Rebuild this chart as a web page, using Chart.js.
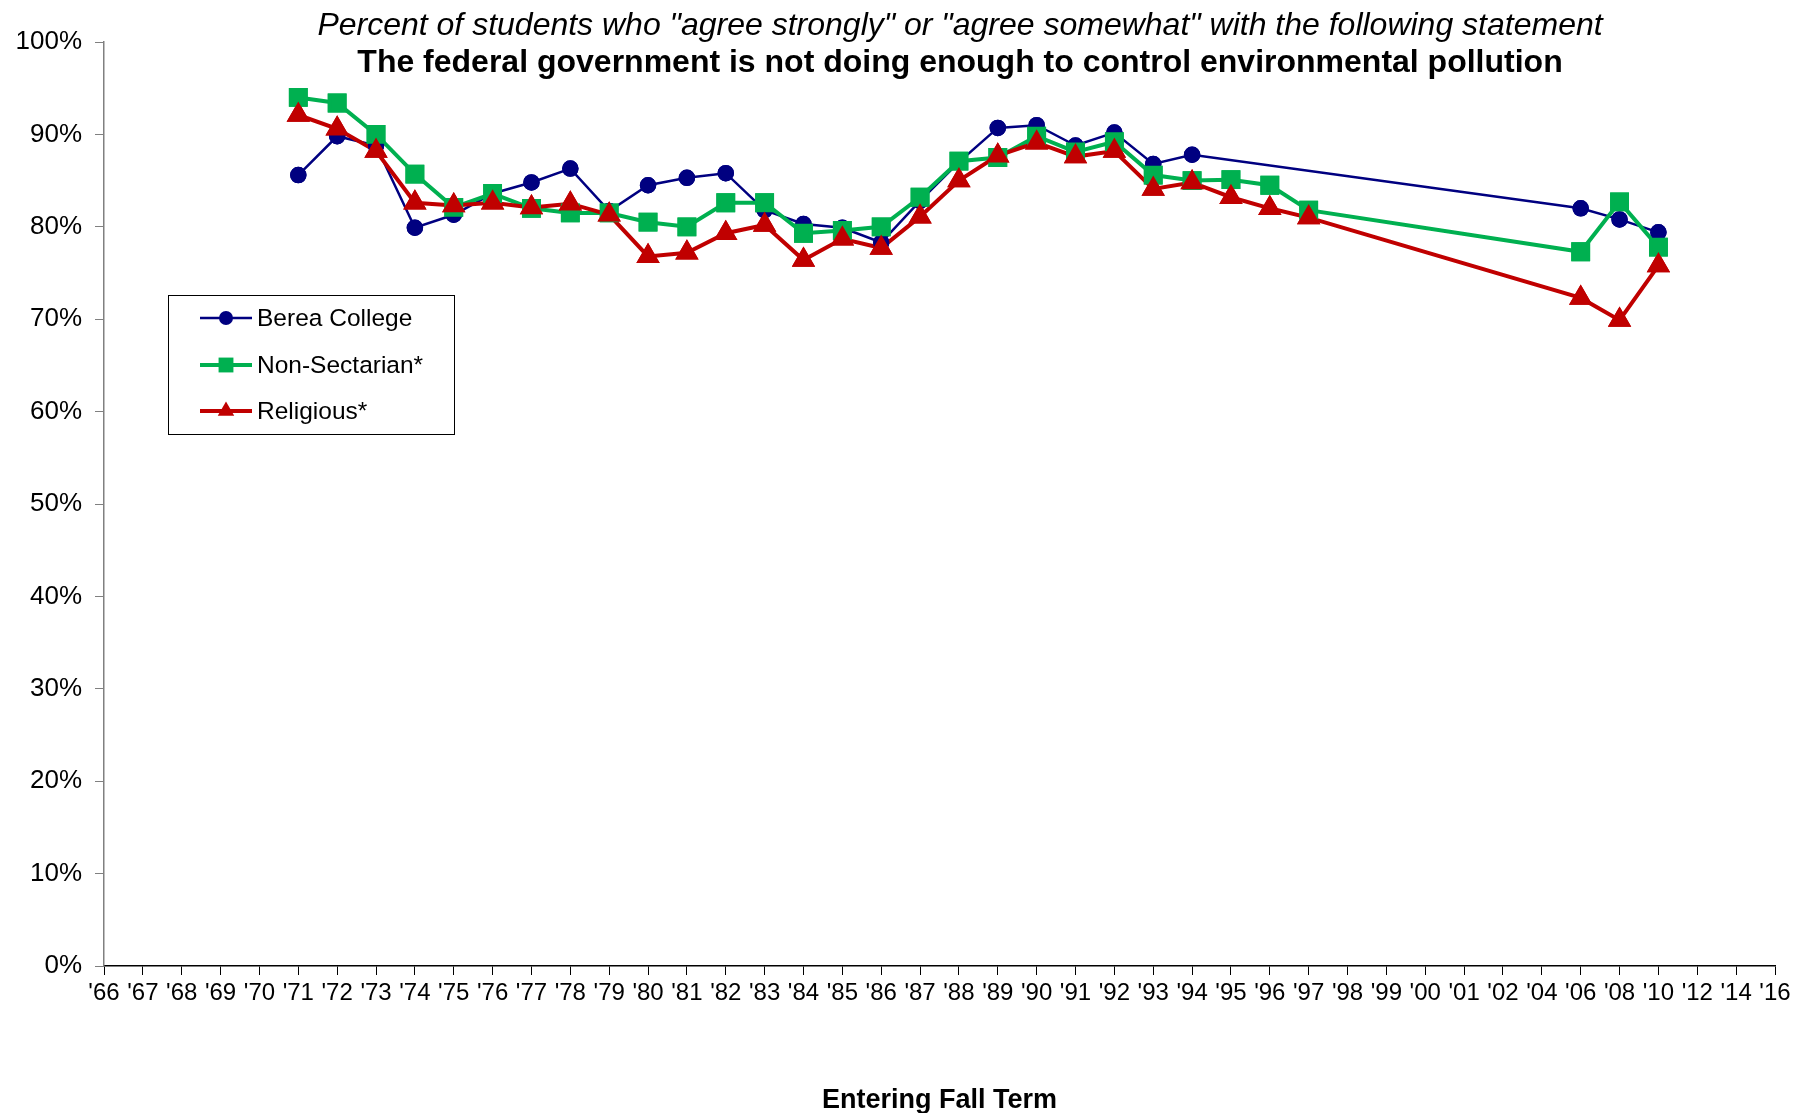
<!DOCTYPE html>
<html><head><meta charset="utf-8">
<script src="https://cdn.jsdelivr.net/npm/chart.js@4.4.0/dist/chart.umd.min.js"></script>
<style>html,body{margin:0;padding:0;background:#fff}</style>
</head><body>
<canvas id="c" width="1816" height="1113" style="width:1816px;height:1113px;display:block"></canvas>
<script>
const years = ["'66","'67","'68","'69","'70","'71","'72","'73","'74","'75","'76","'77","'78","'79","'80","'81","'82","'83","'84","'85","'86","'87","'88","'89","'90","'91","'92","'93","'94","'95","'96","'97","'98","'99","'00","'01","'02","'04","'06","'08","'10","'12","'14","'16"];
const berea = [null,null,null,null,null,
  85.6,89.8,88.8,79.9,81.3,83.6,84.8,86.3,81.7,84.5,85.3,85.8,81.8,80.3,79.9,78.3,82.8,87.0,90.7,91.0,88.8,90.2,86.8,87.8,
  null,null,null,null,null,null,null,null,null,
  82.0,80.8,79.4,null,null,null];
const nonSectarian = [null,null,null,null,null,
  94.0,93.4,90.0,85.7,82.1,83.6,82.0,81.5,81.5,80.5,80.0,82.6,82.6,79.3,79.6,80.0,83.2,87.1,87.5,89.8,88.1,89.2,85.6,85.0,85.1,84.5,81.8,
  null,null,null,null,null,null,
  77.3,82.7,77.8,null,null,null];
const religious = [null,null,null,null,null,
  92.1,90.6,88.2,82.6,82.3,82.6,82.1,82.5,81.3,76.8,77.2,79.3,80.2,76.4,78.7,77.7,81.1,85.0,87.7,89.1,87.6,88.2,84.1,84.8,83.2,82.0,81.0,
  null,null,null,null,null,null,
  72.3,69.9,75.8,null,null,null];
const yTicks = [0,10,20,30,40,50,60,70,80,90,100];
const titleLine1 = 'Percent of students who "agree strongly" or "agree somewhat" with the following statement';
const titleLine2 = 'The federal government is not doing enough to control environmental pollution';
const xTitle = 'Entering Fall Term';

const FONT = '"Liberation Sans", Arial, sans-serif';

function drawMarker(ctx, style, r, x, y, color){
  ctx.save();
  ctx.fillStyle = color; ctx.strokeStyle = color; ctx.lineWidth = 1;
  ctx.beginPath();
  if (style === 'circle') { ctx.arc(x, y, r, 0, Math.PI*2); }
  else if (style === 'rect') { const s = Math.SQRT1_2*r; ctx.rect(x-s, y-s, 2*s, 2*s); }
  else if (style === 'triangle') {
    ctx.moveTo(x, y - r);
    ctx.lineTo(x + Math.sin(Math.PI*2/3)*r, y - Math.cos(Math.PI*2/3)*r);
    ctx.lineTo(x - Math.sin(Math.PI*2/3)*r, y - Math.cos(Math.PI*2/3)*r);
    ctx.closePath();
  }
  ctx.fill();
  ctx.restore();
}

const markersOnTop = {
  id: 'markersOnTop',
  afterDatasetsDraw(chart){
    const ctx = chart.ctx;
    const area = chart.chartArea;
    chart.data.datasets.forEach((ds, i) => {
      const meta = chart.getDatasetMeta(i);
      meta.data.forEach(pt => { if (!pt.skip) pt.draw(ctx, area); });
    });
  }
};

const overlay = {
  id: 'overlay',
  afterDraw(chart){
    const ctx = chart.ctx;
    ctx.save();
    ctx.fillStyle = '#000';
    ctx.textAlign = 'center';
    ctx.textBaseline = 'middle';
    ctx.font = 'italic 32px ' + FONT;
    ctx.fillText(titleLine1, 960, 26);
    ctx.font = 'bold 32px ' + FONT;
    ctx.fillText(titleLine2, 960, 63);
    const lx = 168, ly = 295, lw = 286, lh = 139;
    ctx.fillStyle = '#fff';
    ctx.fillRect(lx, ly, lw, lh);
    ctx.strokeStyle = '#000'; ctx.lineWidth = 1;
    ctx.strokeRect(lx+0.5, ly+0.5, lw, lh);
    const rows = [318, 365, 411];
    chart.data.datasets.forEach((ds, i) => {
      const y = rows[i];
      ctx.strokeStyle = ds.borderColor; ctx.lineWidth = ds.borderWidth;
      ctx.beginPath(); ctx.moveTo(200, y); ctx.lineTo(252, y); ctx.stroke();
      drawMarker(ctx, ds.pointStyle, ds.pointRadius, 226, y, ds.borderColor);
      ctx.fillStyle = '#000';
      ctx.textAlign = 'left'; ctx.textBaseline = 'middle';
      ctx.font = '24.5px ' + FONT;
      ctx.fillText(ds.label, 257, y + 1);
    });
    ctx.restore();
  }
};

new Chart(document.getElementById('c'), {
  type: 'line',
  data: {
    labels: years,
    datasets: [
      { label: 'Berea College', data: berea, borderColor: '#000080', backgroundColor: '#000080',
        borderWidth: 2.5, pointStyle: 'circle', pointRadius: 7, pointHoverRadius: 7, spanGaps: true, order: 3, tension: 0 },
      { label: 'Non-Sectarian*', data: nonSectarian, borderColor: '#00B050', backgroundColor: '#00B050',
        borderWidth: 4, pointStyle: 'rect', pointRadius: 10.5, pointHoverRadius: 10.5, spanGaps: true, order: 2, tension: 0 },
      { label: 'Religious*', data: religious, borderColor: '#C00000', backgroundColor: '#C00000',
        borderWidth: 4, pointStyle: 'triangle', pointRadius: 9.5, pointHoverRadius: 9.5, spanGaps: true, order: 1, tension: 0 }
    ]
  },
  options: {
    responsive: false,
    animation: false,
    events: [],
    layout: { padding: { left: 0, right: 41, top: 42, bottom: 0 } },
    plugins: { legend: { display: false }, title: { display: false }, tooltip: { enabled: false } },
    scales: {
      x: {
        type: 'category',
        offset: false,
        grid: { display: true, drawOnChartArea: false, drawTicks: true, tickLength: 9, color: '#000', lineWidth: 1 },
        border: { display: true, color: '#000', width: 1.5 },
        ticks: { autoSkip: false, maxRotation: 0, minRotation: 0, padding: 4, color: '#000', font: { family: FONT, size: 24 } },
        title: { display: true, text: xTitle, color: '#000', font: { family: FONT, size: 27, weight: 'bold' }, padding: { top: 64, bottom: -4 } },
        afterFit(scale){ scale.height = 147; }
      },
      y: {
        min: 0, max: 100,
        afterBuildTicks(scale){ scale.ticks = yTicks.map(v => ({ value: v })); },
        grid: { display: true, drawOnChartArea: false, drawTicks: true, tickLength: 9, color: '#808080', lineWidth: 1 },
        border: { display: true, color: '#808080', width: 1.5 },
        ticks: { padding: 13, color: '#000', font: { family: FONT, size: 26 }, callback: v => v + '%' },
        afterFit(scale){ scale.width = 104; }
      }
    }
  },
  plugins: [markersOnTop, overlay]
});
</script>
</body></html>
